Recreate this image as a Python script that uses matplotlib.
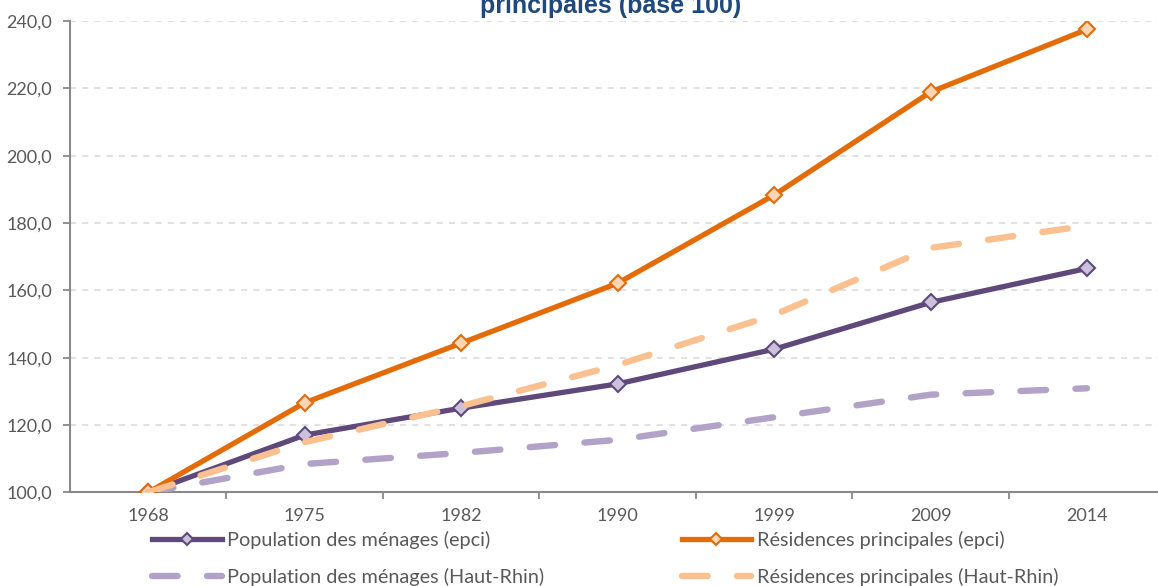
import matplotlib
matplotlib.use("Agg")
import matplotlib.pyplot as plt
import numpy as np

# data (base 100 in 1968)
years = ["1968", "1975", "1982", "1990", "1999", "2009", "2014"]
pop_epci = [100.0, 117.0, 125.0, 132.2, 142.5, 156.4, 166.5]
res_epci = [100.0, 126.6, 144.3, 162.1, 188.3, 218.9, 237.5]
pop_hr = [100.0, 108.4, 111.7, 115.6, 122.3, 129.0, 130.9]
res_hr = [100.0, 114.9, 125.6, 137.8, 152.7, 172.6, 179.2]
y_ticks = [100, 120, 140, 160, 180, 200, 220, 240]

TXT = "#595959"
AXC = "#898989"

plt.rcParams["font.family"] = ["Lato", "DejaVu Sans"]

fig = plt.figure(figsize=(11.58, 5.86), dpi=100)
ax = fig.add_axes([70 / 1158, 1 - 492.3 / 586, 1 - 70 / 1158, (492.3 - 21) / 586])

x = np.arange(len(years))

l1, = ax.plot(x, pop_epci, color="#5F497A", lw=3.8, marker="D", ms=8.5,
              mfc="#CCC1DA", mec="#5F497A", mew=1.5, zorder=3,
              label="Population des ménages (epci)")
l2, = ax.plot(x, res_epci, color="#E36C09", lw=3.8, marker="D", ms=8.5,
              mfc="#FCD5B5", mec="#E36C09", mew=1.5, zorder=3,
              label="Résidences principales (epci)")
l3, = ax.plot(x, pop_hr, color="#B3A2C7", lw=4.6, dashes=(4, 4.6),
              dash_capstyle="round", zorder=4,
              label="Population des ménages (Haut-Rhin)")
l4, = ax.plot(x, res_hr, color="#FAC090", lw=4.6, dashes=(4, 4.6),
              dash_capstyle="round", zorder=4,
              label="Résidences principales (Haut-Rhin)")

ax.set_xlim(-0.5, (1158 - 148) / 156.5)
ax.set_ylim(100, 240)

# category labels at the points, tick marks between categories
ax.set_xticks(np.arange(0.5, len(years) - 1, 1))
ax.set_xticklabels([])
ax.set_xticks(x, minor=True)
ax.set_xticklabels(years, minor=True)
ax.tick_params(axis="x", which="major", length=5, width=1.3, color=AXC, direction="out")
ax.tick_params(axis="x", which="minor", length=0, pad=11, labelsize=13, labelcolor=TXT)

ax.set_yticks(y_ticks)
ax.set_yticklabels([f"{v:.1f}".replace(".", ",") for v in y_ticks])
ax.tick_params(axis="y", length=5, width=1.3, color=AXC, direction="out",
               labelsize=13, labelcolor=TXT, pad=8)

ax.grid(axis="y", color="#D9D9D9", linestyle=(0, (4, 4)), linewidth=1.1, zorder=0)
ax.set_axisbelow(True)

for s in ["top", "right"]:
    ax.spines[s].set_visible(False)
for s in ["left", "bottom"]:
    ax.spines[s].set_color(AXC)
    ax.spines[s].set_linewidth(1.5)

fig.text(611 / 1158, 1 - 13 / 586, "principales (base 100)", ha="center", va="baseline",
         fontsize=18, fontweight="bold", color="#1F497D",
         family=["Liberation Sans", "DejaVu Sans"])

leg = fig.legend(handles=[l1, l3, l2, l4], ncol=2, frameon=False,
                 loc="upper left", bbox_to_anchor=(152 / 1158, 1 - 531 / 586),
                 fontsize=14.3, labelcolor=TXT, handlelength=3.5,
                 handletextpad=0.3, columnspacing=6.9, labelspacing=0.95,
                 borderaxespad=0.0, borderpad=0.0, markerscale=0.75)

fig.savefig("out.png", dpi=100)
